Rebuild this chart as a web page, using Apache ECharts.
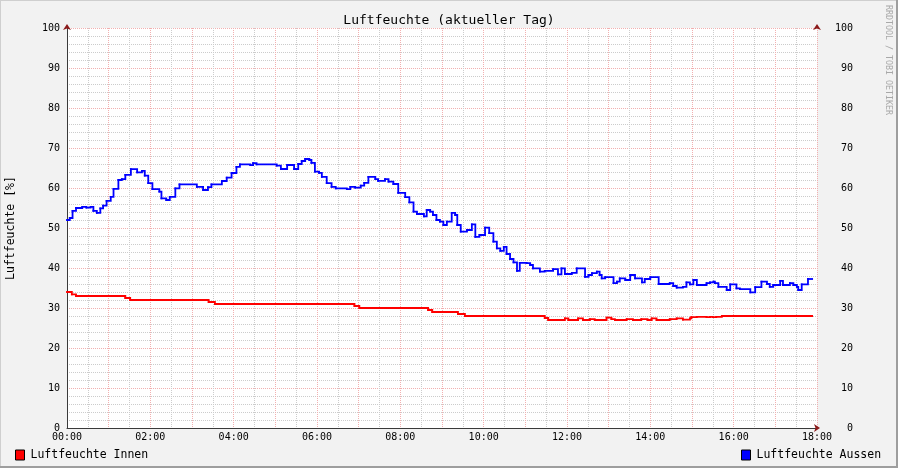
<!DOCTYPE html>
<html>
<head>
<meta charset="utf-8">
<script src="https://cdn.jsdelivr.net/npm/echarts@6/dist/echarts.min.js"></script>
<style>
html,body{margin:0;padding:0;background:#f2f2f2;}
#c{width:898px;height:468px;}
</style>
</head>
<body>
<div id="c"></div>
<script>
// Time in minutes since 00:00 where a value starts, with the value (%)
var innenTimes = [0, 7, 13, 84, 91, 204, 213, 414, 421, 520, 526, 563, 573, 688, 693, 717, 722, 736, 743, 753, 760, 777, 784, 789, 806, 815, 827, 836, 842, 849, 868, 878, 887, 897, 899, 907, 921, 926, 930, 935, 943, 1073];
var innenValues = [34, 33.4, 33, 32.5, 32, 31.5, 31, 30.5, 30, 29.5, 29, 28.5, 28, 27.5, 27, 27.4, 27, 27.4, 27, 27.2, 27, 27.6, 27.2, 27, 27.2, 27, 27.2, 27, 27.4, 27, 27.2, 27.4, 27.1, 27.4, 27.7, 27.8, 27.7, 27.8, 27.7, 27.8, 28, 28];

var aussenTimes = [0, 4, 8, 13, 22, 28, 34, 38, 43, 48, 52, 57, 63, 67, 74, 79, 84, 92, 101, 108, 112, 117, 123, 133, 136, 143, 148, 156, 162, 187, 196, 203, 208, 223, 230, 237, 244, 249, 264, 268, 273, 302, 308, 317, 327, 333, 338, 343, 349, 352, 357, 363, 367, 374, 381, 387, 403, 408, 415, 423, 428, 434, 444, 448, 458, 463, 470, 477, 487, 493, 499, 504, 514, 518, 523, 527, 532, 537, 542, 547, 554, 559, 562, 567, 576, 583, 588, 594, 602, 608, 614, 619, 624, 629, 633, 638, 643, 648, 652, 662, 667, 671, 681, 688, 700, 707, 712, 717, 727, 734, 746, 751, 756, 763, 767, 770, 775, 787, 792, 796, 804, 811, 818, 828, 832, 840, 852, 868, 873, 878, 887, 892, 897, 902, 907, 921, 926, 931, 933, 938, 950, 955, 964, 969, 984, 991, 1000, 1008, 1012, 1017, 1027, 1031, 1041, 1046, 1051, 1053, 1058, 1067, 1073];
var aussenValues = [52, 52.5, 54.3, 55, 55.3, 55.1, 55.3, 54.3, 53.8, 54.9, 55.6, 56.8, 57.8, 59.8, 62, 62.2, 63.3, 64.7, 63.9, 64.3, 63.1, 61.2, 59.7, 59.1, 57.4, 57, 57.8, 59.9, 60.9, 60.3, 59.5, 60.2, 60.9, 61.75, 62.6, 63.75, 65.3, 65.9, 65.7, 66.2, 65.9, 65.6, 64.75, 65.75, 64.75, 66, 66.75, 67.25, 67, 66.3, 64.1, 63.8, 62.8, 61.2, 60.3, 59.9, 59.7, 60.3, 60.1, 60.6, 61.3, 62.8, 62.2, 61.8, 62.2, 61.6, 61, 58.8, 57.7, 56.4, 54.1, 53.5, 52.9, 54.5, 54.1, 53.25, 52, 51.6, 50.75, 51.6, 53.8, 53.25, 50.75, 49.1, 49.5, 50.9, 47.8, 48.25, 50.1, 48.7, 46.6, 44.9, 44.3, 45.3, 43.5, 42.25, 41.4, 39.3, 41.3, 41.2, 40.75, 39.9, 39.1, 39.3, 39.7, 38.4, 39.9, 38.5, 38.8, 39.9, 37.8, 38.25, 38.7, 39.1, 38.25, 37.4, 37.7, 36.2, 36.6, 37.4, 37, 38.25, 37.4, 36.4, 37.25, 37.7, 36, 36.2, 35.5, 35.1, 35.3, 36.4, 35.9, 37, 35.75, 36.2, 36.4, 36.6, 36.2, 35.3, 34.5, 35.9, 34.9, 34.7, 33.9, 35.2, 36.6, 36, 35.3, 35.75, 36.8, 35.75, 36.2, 35.75, 35.3, 34.5, 35.9, 37.25, 37.25];

var seriesNames = ['Luftfeuchte Innen', 'Luftfeuchte Aussen'];
var seriesColors = ['#ff0000', '#0000ff'];
var chartTitle = 'Luftfeuchte (aktueller Tag)';
var yAxisTitle = 'Luftfeuchte [%]';
var watermark = 'RRDTOOL / TOBI OETIKER';

// Each value holds from its time stamp until the next one (RRDtool step drawing):
// one item per interval = [start, end, value, next value]
function stepSegments(t, v) {
  var out = [];
  for (var i = 0; i + 1 < t.length; i++) out.push([t[i], t[i + 1], v[i], v[i + 1]]);
  return out;
}
function stepRenderer(color) {
  return function (params, api) {
    var p0 = api.coord([api.value(0), api.value(2)]);
    var p1 = api.coord([api.value(1), api.value(2)]);
    var p2 = api.coord([api.value(1), api.value(3)]);
    return {
      type: 'polyline', silent: true,
      shape: { points: [p0, p1, p2] },
      style: { stroke: color, lineWidth: 1.8, fill: null, lineCap: 'square', lineJoin: 'miter' }
    };
  };
}
function hhmm(m) {
  var h = Math.floor(m / 60), mm = m % 60;
  return (h < 10 ? '0' : '') + h + ':' + (mm < 10 ? '0' : '') + mm;
}

var mono = 'DejaVu Sans Mono';
var axisCol = '#3a3a3a';
var arrowCol = '#8b1a1a';
var majorGrid = '#f2b0b0';
var minorGrid = '#cccccc';

var legendBase = {
  top: 449, padding: 0, itemWidth: 9, itemHeight: 10, itemGap: 0, icon: 'rect',
  itemStyle: { borderColor: '#000', borderWidth: 1 },
  textStyle: { fontFamily: mono, fontSize: 11.5, color: '#000', padding: [0, 0, 0, 1] }
};

var chart = echarts.init(document.getElementById('c'), null, { renderer: 'canvas' });
chart.setOption({
  backgroundColor: '#f2f2f2',
  animation: false,
  title: {
    text: chartTitle, left: 'center', top: 9,
    textStyle: { fontFamily: mono, fontSize: 13, fontWeight: 'normal', color: '#000' }
  },
  legend: [
    Object.assign({ data: [seriesNames[0]], left: 15 }, legendBase),
    Object.assign({ data: [seriesNames[1]], left: 741 }, legendBase)
  ],
  grid: { left: 67, top: 28, width: 750, height: 400, backgroundColor: '#fff', show: true, borderWidth: 0,
    containLabel: false, outerBoundsMode: 'none' },
  xAxis: [{
    type: 'value', min: 0, max: 1080, interval: 60,
    axisLine: { show: true, lineStyle: { color: axisCol, width: 1 } },
    axisTick: { show: false },
    axisLabel: {
      margin: 4, fontFamily: mono, fontSize: 10, color: '#000',
      formatter: function (v) { return v % 120 === 0 ? hhmm(v) : ''; }
    },
    splitLine: { show: true, lineStyle: { color: majorGrid, type: [1, 1], width: 1 } },
    minorTick: { show: false, splitNumber: 2 },
    minorSplitLine: { show: true, lineStyle: { color: minorGrid, type: [1, 1], width: 1 } }
  }, {
    type: 'value', min: 0, max: 1080, position: 'bottom', gridIndex: 0,
    axisLine: { show: true, symbol: ['none', 'arrow'], symbolSize: [6, 6], symbolOffset: [0, 3],
      lineStyle: { color: arrowCol, width: 0 } },
    axisTick: { show: false }, axisLabel: { show: false }, splitLine: { show: false }
  }],
  yAxis: [{
    type: 'value', min: 0, max: 100, interval: 10, position: 'left',
    name: yAxisTitle, nameLocation: 'middle', nameGap: 50, nameRotate: 90,
    nameTextStyle: { fontFamily: mono, fontSize: 11.5, color: '#000' },
    axisLine: { show: true, lineStyle: { color: axisCol, width: 1 } },
    axisTick: { show: false },
    axisLabel: { margin: 7, fontFamily: mono, fontSize: 10, color: '#000' },
    splitLine: { show: true, lineStyle: { color: majorGrid, type: [1, 1], width: 1 } },
    minorTick: { show: false, splitNumber: 5 },
    minorSplitLine: { show: true, lineStyle: { color: minorGrid, type: [1, 1], width: 1 } }
  }, {
    type: 'value', min: 0, max: 100, interval: 10, position: 'right',
    axisLine: { show: true, lineStyle: { color: axisCol, width: 1 } },
    axisTick: { show: false },
    axisLabel: { margin: 36, align: 'right', fontFamily: mono, fontSize: 10, color: '#000' },
    splitLine: { show: false }
  }, {
    type: 'value', min: 0, max: 100, position: 'left',
    axisLine: { show: true, symbol: ['none', 'arrow'], symbolSize: [6, 6], symbolOffset: [0, 4],
      lineStyle: { color: arrowCol, width: 0 } },
    axisTick: { show: false }, axisLabel: { show: false }, splitLine: { show: false }
  }, {
    type: 'value', min: 0, max: 100, position: 'right',
    axisLine: { show: true, symbol: ['none', 'arrow'], symbolSize: [6, 6], symbolOffset: [0, 4],
      lineStyle: { color: arrowCol, width: 0 } },
    axisTick: { show: false }, axisLabel: { show: false }, splitLine: { show: false }
  }],
  series: [{
    name: seriesNames[0], type: 'custom', coordinateSystem: 'cartesian2d',
    xAxisIndex: 0, yAxisIndex: 0,
    data: stepSegments(innenTimes, innenValues),
    encode: { x: [0, 1], y: [2, 3] },
    renderItem: stepRenderer(seriesColors[0]),
    itemStyle: { color: seriesColors[0] },
    z: 5
  }, {
    name: seriesNames[1], type: 'custom', coordinateSystem: 'cartesian2d',
    xAxisIndex: 0, yAxisIndex: 0,
    data: stepSegments(aussenTimes, aussenValues),
    encode: { x: [0, 1], y: [2, 3] },
    renderItem: stepRenderer(seriesColors[1]),
    itemStyle: { color: seriesColors[1] },
    z: 5
  }],
  graphic: [
    { type: 'rect', left: 0, top: 0, shape: { width: 898, height: 1 }, style: { fill: '#cfcfcf' } },
    { type: 'rect', left: 0, top: 0, shape: { width: 1, height: 468 }, style: { fill: '#cfcfcf' } },
    { type: 'rect', left: 0, top: 466, shape: { width: 898, height: 2 }, style: { fill: '#9e9e9e' } },
    { type: 'rect', left: 896, top: 0, shape: { width: 2, height: 468 }, style: { fill: '#9e9e9e' } },
    { type: 'text', x: 892, y: 5, rotation: -Math.PI / 2,
      style: { text: watermark, fontFamily: mono, fontSize: 8.3, fill: '#a8a8a8' } }
  ]
});
</script>
</body>
</html>
